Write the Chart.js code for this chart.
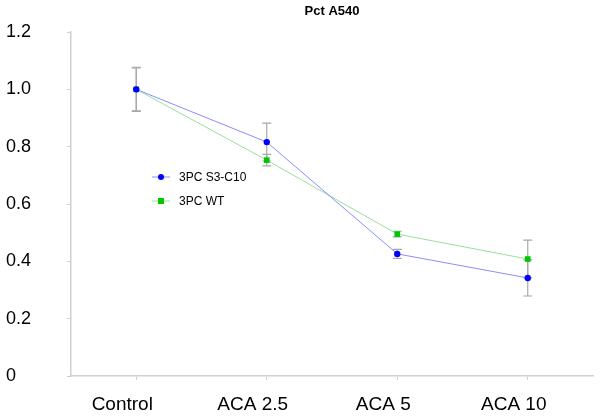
<!DOCTYPE html>
<html>
<head>
<meta charset="utf-8">
<script src="https://cdn.jsdelivr.net/npm/chart.js@4/dist/chart.umd.min.js"></script>
<style>
html, body { margin: 0; padding: 0; background: #fff; }
#wrap { width: 600px; height: 420px; }
</style>
</head>
<body>
<div id="wrap"><canvas id="chart" width="600" height="420"></canvas></div>
<script>
const categories = ["Control", "ACA 2.5", "ACA 5", "ACA 10"]
const s3c10 = [1.0, 0.816, 0.426, 0.342]
const s3c10Err = [0.077, 0.066, 0.016, 0.063]
const wt = [1.0, 0.753, 0.495, 0.408]
const wtErr = [0.075, 0.02, 0.01, 0.066]
const yTicks = [0, 0.2, 0.4, 0.6, 0.8, 1.0, 1.2]
const chartTitle = "Pct A540"

const FONT = "'Liberation Sans', Arial, sans-serif"

// error bars drawn under the markers
const errorBars = {
  id: "errorBars",
  beforeDatasetsDraw(chart) {
    const ctx = chart.ctx
    const y = chart.scales.y
    ctx.save()
    ctx.strokeStyle = "#a8a8a8"
    ctx.lineWidth = 1.2
    chart.data.datasets.forEach((ds, di) => {
      const meta = chart.getDatasetMeta(di)
      meta.data.forEach((pt, i) => {
        const e = ds.errors[i]
        const top = y.getPixelForValue(ds.data[i] + e)
        const bot = y.getPixelForValue(ds.data[i] - e)
        const x = pt.x
        ctx.beginPath()
        ctx.moveTo(x, top); ctx.lineTo(x, bot)
        ctx.moveTo(x - 4.5, top); ctx.lineTo(x + 4.5, top)
        ctx.moveTo(x - 4.5, bot); ctx.lineTo(x + 4.5, bot)
        ctx.stroke()
      })
    })
    ctx.restore()
  }
}

// title centred over the plot area, legend inside the plot
const overlay = {
  id: "overlay",
  afterDraw(chart) {
    const ctx = chart.ctx
    const area = chart.chartArea
    ctx.save()
    ctx.fillStyle = "#000"
    ctx.font = "bold 13px " + FONT
    ctx.textAlign = "center"
    ctx.textBaseline = "middle"
    ctx.fillText(chartTitle, (area.left + area.right) / 2, 11)

    ctx.textAlign = "left"
    ctx.font = "12px " + FONT
    chart.data.datasets.forEach((ds, i) => {
      const yy = 177 + i * 24
      ctx.strokeStyle = ds.borderColor
      ctx.lineWidth = 1
      ctx.beginPath()
      ctx.moveTo(152, yy); ctx.lineTo(170, yy)
      ctx.stroke()
      ctx.fillStyle = ds.pointBackgroundColor
      if (ds.pointStyle === "rect") {
        ctx.fillRect(158, yy - 3, 6, 6)
      } else {
        ctx.beginPath()
        ctx.arc(161, yy, 3, 0, Math.PI * 2)
        ctx.fill()
      }
      ctx.fillStyle = "#000"
      ctx.fillText(ds.label, 179, yy + 1)
    })
    ctx.restore()
  }
}

const ctx = document.getElementById("chart").getContext("2d")
const chart = new Chart(ctx, {
  type: "line",
  data: {
    labels: categories,
    datasets: [
      {
        label: "3PC S3-C10",
        data: s3c10,
        errors: s3c10Err,
        borderColor: "#8c8cff",
        borderWidth: 1,
        pointStyle: "circle",
        pointRadius: 3.2,
        pointBackgroundColor: "#0000ff",
        pointBorderColor: "#0000ff",
        pointBorderWidth: 0,
        tension: 0
      },
      {
        label: "3PC WT",
        data: wt,
        errors: wtErr,
        borderColor: "#9adf9a",
        borderWidth: 1,
        pointStyle: "rect",
        pointRadius: 4,
        pointBackgroundColor: "#00c800",
        pointBorderColor: "#00c800",
        pointBorderWidth: 0,
        tension: 0
      }
    ]
  },
  options: {
    responsive: false,
    animation: false,
    layout: { padding: { left: 6, right: 7, top: 32, bottom: 0 } },
    plugins: {
      legend: { display: false },
      tooltip: { enabled: false },
      title: { display: false }
    },
    scales: {
      x: {
        type: "category",
        offset: true,
        grid: { display: true, drawOnChartArea: false, offset: false, tickLength: 4, color: "#cfcfcf" },
        border: { color: "#cfcfcf", width: 1.5 },
        ticks: {
          color: "#000",
          font: { family: FONT, size: 19 },
          padding: 13,
          labelOffset: -14,
          maxRotation: 0,
          autoSkip: false
        },
        afterFit(scale) { scale.height = 44 }
      },
      y: {
        min: 0,
        max: 1.2,
        afterBuildTicks(scale) { scale.ticks = yTicks.map(v => ({ value: v })) },
        grid: { display: true, drawOnChartArea: false, tickLength: 4, color: "#cfcfcf" },
        border: { color: "#cfcfcf", width: 1.5 },
        ticks: {
          color: "#000",
          font: { family: FONT, size: 18 },
          crossAlign: "far",
          callback: v => v === 0 ? "0" : v.toFixed(1)
        },
        afterFit(scale) { scale.width = 65 }
      }
    }
  },
  plugins: [errorBars, overlay]
})
</script>
</body>
</html>
